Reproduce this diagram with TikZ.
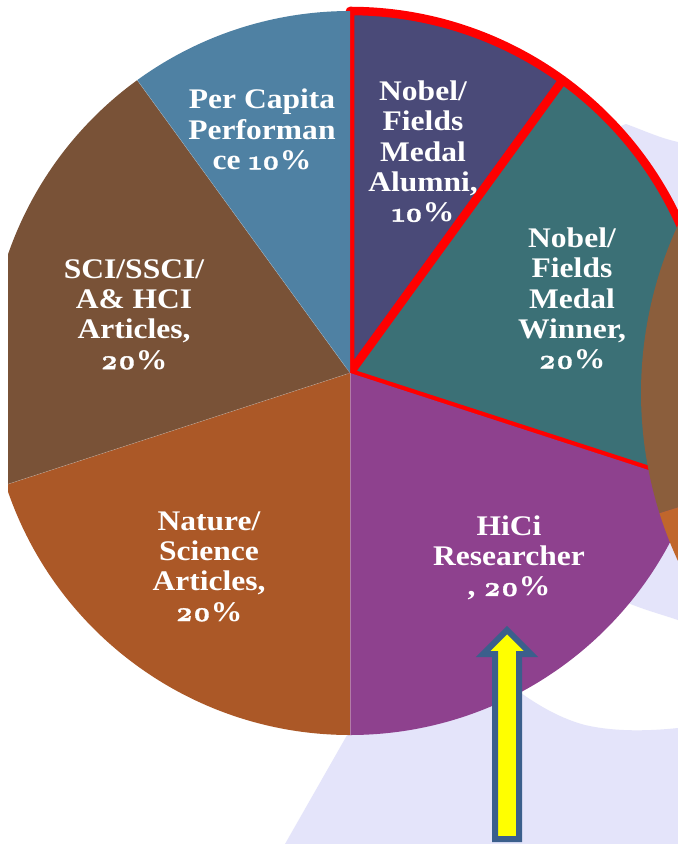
\documentclass[tikz,border=0pt]{standalone}
\usepackage{fontspec}
\setmainfont{Liberation Serif}[FakeStretch=1.11]
\newfontfamily\oldnum{Latin Modern Roman}[Numbers=OldStyle,FakeBold=1.2]
\newcommand{\pct}[1]{{\oldnum\fontsize{21}{22.7}\selectfont #1}\%}
\definecolor{wash}{HTML}{E4E4FA}
\definecolor{blueS}{HTML}{4F81A3}
\definecolor{navyS}{HTML}{4A4A78}
\definecolor{tealS}{HTML}{3B7076}
\definecolor{purpleS}{HTML}{8E418E}
\definecolor{orangeS}{HTML}{AB5827}
\definecolor{brownS}{HTML}{795237}
\definecolor{brownR}{HTML}{8B5E3C}
\definecolor{orangeR}{HTML}{C0662C}
\definecolor{arrowB}{HTML}{3B5F8C}
\definecolor{arrowY}{rgb}{1,1,0}
\tikzset{
 lab/.style={text=white,font=\fontsize{21.3}{22.7}\selectfont\bfseries,align=center,inner sep=0pt},
 redline/.style={draw=red,line width=6.4pt,line cap=round,line join=round},
 seam/.style={draw=white,draw opacity=.3,line width=.35pt},
 sector/.style={x radius=362,y radius=-362}
}
\begin{document}
\begin{tikzpicture}[x=0.75pt,y=-0.75pt]
\useasboundingbox (0,0) rectangle (678,844);
\fill[white] (0,0) rectangle (678,844);
\begin{scope}
\clip (0,0) rectangle (678,844);
% watermark behind the pie
\fill[wash] (285,844) -- (350,730) -- (510,685) .. controls (530,700) and (555,717) .. (585,725) .. controls (615,732) and (650,731) .. (678,728) -- (678,844) -- cycle;
\fill[wash] (600,134) -- (626,124) .. controls (645,131) and (660,138) .. (678,142) -- (678,300) -- (600,300) -- cycle;
\fill[wash] (628,603) .. controls (645,610) and (660,614) .. (678,620) -- (678,530) -- (600,560) -- cycle;
% pie
\coordinate (c) at (350,373);
\filldraw[fill=navyS,redline] (c) -- (350,11) arc[start angle=90,end angle=54,sector] -- cycle;
\filldraw[fill=tealS,redline] (c) -- ({350+362*cos(54)},{373-362*sin(54)}) arc[start angle=54,end angle=-18,sector] -- cycle;
\begin{scope}
\clip (8,0) rectangle (678,844);
\fill[purpleS] (c) -- ({350+362*cos(-18)},{373-362*sin(-18)}) arc[start angle=-18,end angle=-90,sector] -- cycle;
\fill[orangeS] (c) -- (350,735) arc[start angle=-90,end angle=-162,sector] -- cycle;
\fill[brownS] (c) -- ({350+362*cos(198)},{373-362*sin(198)}) arc[start angle=198,end angle=126,sector] -- cycle;
\fill[blueS] (c) -- ({350+362*cos(126)},{373-362*sin(126)}) arc[start angle=126,end angle=90,sector] -- cycle;
\draw[seam] (c) -- (350,735);
\draw[seam] (c) -- ({350+362*cos(198)},{373-362*sin(198)});
\draw[seam] (c) -- ({350+362*cos(126)},{373-362*sin(126)});
\end{scope}
% second pie at the right edge
\coordinate (d) at (1041,393);
\fill[brownR] (d) -- ({1041+400*cos(197.5)},{393-400*sin(197.5)}) arc[start angle=197.5,end angle=150,x radius=400,y radius=-400] -- cycle;
\fill[orangeR] (d) -- ({1041+400*cos(197.5)},{393-400*sin(197.5)}) arc[start angle=197.5,end angle=225,x radius=400,y radius=-400] -- cycle;
\end{scope}
% labels
\node[lab] (pc) at (262,129.5) {Per Capita\\Performan\\ce \pct{10}};
\node[lab] (na) at (423,151.5) {Nobel/\\Fields\\Medal\\Alumni,\\\pct{10}};
\node[lab] (nw) at (572,298.5) {Nobel/\\Fields\\Medal\\Winner,\\\pct{20}};
\node[lab] (hc) at (509,558) {HiCi\\Researcher\\, \pct{20}};
\node[lab] (ns) at (209,566.5) {Nature/\\Science\\Articles,\\\pct{20}};
\node[lab] (sc) at (134,314.5) {SCI/SSCI/\\A\& HCI\\Articles,\\\pct{20}};
% arrow
\filldraw[fill=arrowY,draw=arrowB,line width=4.5pt,miter limit=10] (495,839) -- (495,654) -- (483,654) -- (507,630) -- (531,654) -- (519,654) -- (519,839) -- cycle;
\end{tikzpicture}
\end{document}
